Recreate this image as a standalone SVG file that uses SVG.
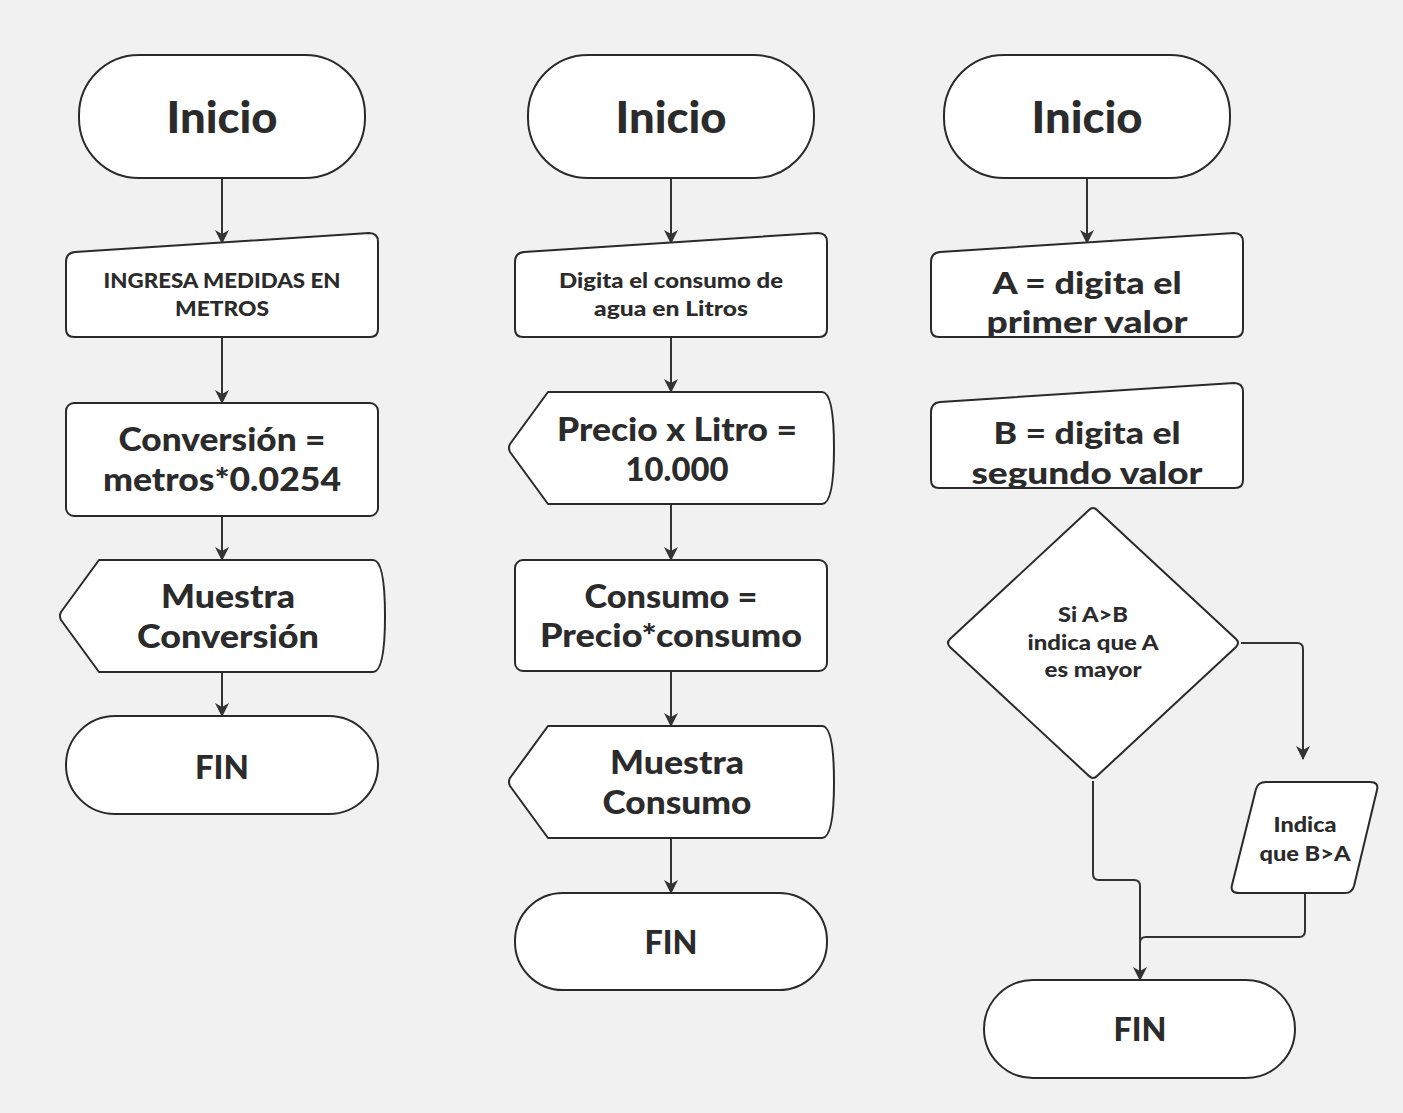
<svg xmlns="http://www.w3.org/2000/svg" width="1403" height="1113" viewBox="0 0 1403 1113">
<defs>
<marker id="ah" viewBox="0 0 14 14" refX="13" refY="7" markerWidth="14" markerHeight="14" markerUnits="userSpaceOnUse" orient="auto">
<path d="M0,0 L14,7 L0,14 L4,7 Z" fill="#333"/>
</marker>
<style>
.s{fill:#fff;stroke:#2a2a2a;stroke-width:2;stroke-linejoin:round}
.c{fill:none;stroke:#333;stroke-width:2;marker-end:url(#ah)}
.cn{fill:none;stroke:#333;stroke-width:2}
text{font-family:Lato,"Liberation Sans",sans-serif;font-weight:900;fill:#2b2b2b;text-anchor:middle}
.t40{font-size:44px}
.t32{font-size:31px}
.t30{font-size:33px}
.t19{font-size:21px}
</style>
</defs>
<rect width="1403" height="1113" fill="#f1f1f1"/>

<g id="connectors">
<path class="c" d="M222,178 V243"/>
<path class="c" d="M222,337 V403"/>
<path class="c" d="M222,516 V560"/>
<path class="c" d="M222,672 V716"/>
<path class="c" d="M671,178 V243"/>
<path class="c" d="M671,337 V392"/>
<path class="c" d="M671,504 V560"/>
<path class="c" d="M671,671 V726"/>
<path class="c" d="M671,838 V893"/>
<path class="c" d="M1087,178 V243"/>
<path class="c" d="M1241,643 H1297 Q1303,643 1303,649 V759"/>
<path class="cn" d="M1093,781 V874 Q1093,880 1099,880 H1134 Q1140,880 1140,886 V960"/>
<path class="c" d="M1305,893 V931 Q1305,937 1299,937 H1146 Q1140,937 1140,943 V980"/>
</g>

<g id="c1-inicio">
<rect class="s" x="79" y="55" width="286" height="123" rx="60" ry="60"/>
<text class="t40" x="222" y="133" textLength="111" lengthAdjust="spacingAndGlyphs">Inicio</text>
</g>
<g id="c1-input">
<path class="s" d="M66,262 Q66,253 75,252 L369,233 Q378,233 378,242 L378,329 Q378,337 370,337 L74,337 Q66,337 66,329 Z"/>
<text class="t19" x="222" y="288" textLength="237" lengthAdjust="spacingAndGlyphs">INGRESA MEDIDAS EN</text>
<text class="t19" x="222" y="316" textLength="94" lengthAdjust="spacingAndGlyphs">METROS</text>
</g>
<g id="c1-proc">
<rect class="s" x="66" y="403" width="312" height="113" rx="8"/>
<text class="t30" x="222" y="451" textLength="207" lengthAdjust="spacingAndGlyphs">Conversión =</text>
<text class="t30" x="222" y="491" textLength="238" lengthAdjust="spacingAndGlyphs">metros*0.0254</text>
</g>
<g id="c1-display">
<path class="s" d="M99,560 L373,560 C383,560 385,590 385,616 C385,642 383,672 373,672 L99,672 L61,620 Q59,616 61,612 Z"/>
<text class="t30" x="228" y="608" textLength="134" lengthAdjust="spacingAndGlyphs">Muestra</text>
<text class="t30" x="228" y="648" textLength="182" lengthAdjust="spacingAndGlyphs">Conversión</text>
</g>
<g id="c1-fin">
<rect class="s" x="66" y="716" width="312" height="98" rx="49" ry="49"/>
<text class="t30" x="222" y="779" textLength="54" lengthAdjust="spacingAndGlyphs">FIN</text>
</g>

<g id="c2-inicio">
<rect class="s" x="528" y="55" width="286" height="123" rx="60" ry="60"/>
<text class="t40" x="671" y="133" textLength="111" lengthAdjust="spacingAndGlyphs">Inicio</text>
</g>
<g id="c2-input">
<path class="s" d="M515,262 Q515,253 524,252 L818,233 Q827,233 827,242 L827,329 Q827,337 819,337 L523,337 Q515,337 515,329 Z"/>
<text class="t19" x="671" y="288" textLength="224" lengthAdjust="spacingAndGlyphs">Digita el consumo de</text>
<text class="t19" x="671" y="316" textLength="154" lengthAdjust="spacingAndGlyphs">agua en Litros</text>
</g>
<g id="c2-precio">
<path class="s" d="M548,392 L822,392 C832,392 834,422 834,448 C834,474 832,504 822,504 L548,504 L510,452 Q508,448 510,444 Z"/>
<text class="t30" x="677" y="441" textLength="240" lengthAdjust="spacingAndGlyphs">Precio x Litro =</text>
<text class="t30" x="677" y="481" textLength="103" lengthAdjust="spacingAndGlyphs">10.000</text>
</g>
<g id="c2-proc">
<rect class="s" x="515" y="560" width="312" height="111" rx="8"/>
<text class="t30" x="671" y="608" textLength="173" lengthAdjust="spacingAndGlyphs">Consumo =</text>
<text class="t30" x="671" y="647" textLength="262" lengthAdjust="spacingAndGlyphs">Precio*consumo</text>
</g>
<g id="c2-display">
<path class="s" d="M548,726 L822,726 C832,726 834,756 834,782 C834,808 832,838 822,838 L548,838 L510,786 Q508,782 510,778 Z"/>
<text class="t30" x="677" y="774" textLength="134" lengthAdjust="spacingAndGlyphs">Muestra</text>
<text class="t30" x="677" y="814" textLength="149" lengthAdjust="spacingAndGlyphs">Consumo</text>
</g>
<g id="c2-fin">
<rect class="s" x="515" y="893" width="312" height="97" rx="48" ry="48"/>
<text class="t30" x="671" y="954" textLength="53" lengthAdjust="spacingAndGlyphs">FIN</text>
</g>

<g id="c3-inicio">
<rect class="s" x="944" y="55" width="286" height="123" rx="60" ry="60"/>
<text class="t40" x="1087" y="133" textLength="111" lengthAdjust="spacingAndGlyphs">Inicio</text>
</g>
<g id="c3-inputA">
<path class="s" d="M931,262 Q931,253 940,252 L1234,233 Q1243,233 1243,242 L1243,329 Q1243,337 1235,337 L939,337 Q931,337 931,329 Z"/>
<text class="t32" x="1087" y="294" textLength="189" lengthAdjust="spacingAndGlyphs">A = digita el</text>
<text class="t32" x="1087" y="333" textLength="201" lengthAdjust="spacingAndGlyphs">primer valor</text>
</g>
<g id="c3-inputB">
<path class="s" d="M931,412 Q931,403 940,402 L1234,383 Q1243,383 1243,392 L1243,480 Q1243,488 1235,488 L939,488 Q931,488 931,480 Z"/>
<text class="t32" x="1087" y="444" textLength="187" lengthAdjust="spacingAndGlyphs">B = digita el</text>
<text class="t32" x="1087" y="484" textLength="231" lengthAdjust="spacingAndGlyphs">segundo valor</text>
</g>
<g id="c3-decision">
<path class="s" d="M1089,510 Q1093,506 1097,510 L1236,639 Q1240,643 1236,647 L1097,776 Q1093,780 1089,776 L950,647 Q946,643 950,639 Z"/>
<text class="t19" x="1093" y="622" textLength="70" lengthAdjust="spacingAndGlyphs">Si A&gt;B</text>
<text class="t19" x="1093" y="650" textLength="131" lengthAdjust="spacingAndGlyphs">indica que A</text>
<text class="t19" x="1093" y="677" textLength="97" lengthAdjust="spacingAndGlyphs">es mayor</text>
</g>
<g id="c3-output">
<path class="s" d="M1266,782 L1370,782 Q1379,782 1377,790 L1354,886 Q1352,893 1345,893 L1239,893 Q1230,893 1232,885 L1256,789 Q1258,782 1266,782 Z"/>
<text class="t19" x="1305" y="832" textLength="63" lengthAdjust="spacingAndGlyphs">Indica</text>
<text class="t19" x="1305" y="861" textLength="91" lengthAdjust="spacingAndGlyphs">que B&gt;A</text>
</g>
<g id="c3-fin">
<rect class="s" x="984" y="980" width="311" height="98" rx="49" ry="49"/>
<text class="t30" x="1140" y="1041" textLength="53" lengthAdjust="spacingAndGlyphs">FIN</text>
</g>
</svg>
